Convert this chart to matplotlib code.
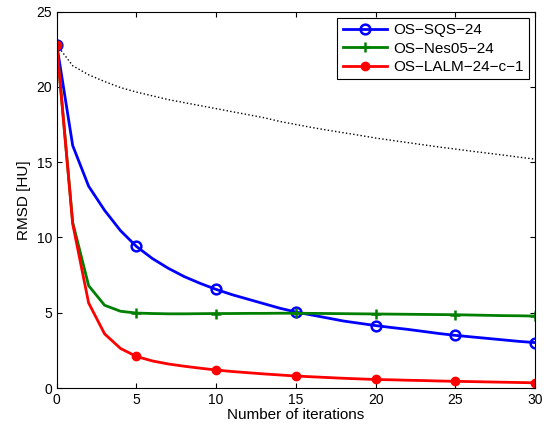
import matplotlib.pyplot as plt

plt.rcParams['font.family'] = ['Liberation Sans', 'DejaVu Sans']

iters = list(range(31))
sqs = [22.8, 16.1, 13.4, 11.8, 10.45, 9.4, 8.6, 7.95, 7.4, 6.95, 6.55,
       6.2, 5.9, 5.6, 5.3, 5.05, 4.85, 4.65, 4.45, 4.3, 4.15,
       4.02, 3.9, 3.76, 3.62, 3.5, 3.4, 3.3, 3.2, 3.1, 3.02]
nes = [22.8, 11.0, 6.8, 5.5, 5.1, 4.98, 4.95, 4.93, 4.93, 4.94, 4.95,
       4.95, 4.96, 4.96, 4.97, 4.97, 4.96, 4.95, 4.94, 4.93, 4.92,
       4.91, 4.9, 4.89, 4.88, 4.87, 4.85, 4.83, 4.81, 4.8, 4.78]
lalm = [22.8, 10.9, 5.65, 3.6, 2.63, 2.1, 1.8, 1.6, 1.45, 1.32, 1.2,
        1.1, 1.02, 0.94, 0.87, 0.8, 0.75, 0.7, 0.65, 0.61, 0.57,
        0.55, 0.52, 0.5, 0.47, 0.45, 0.43, 0.41, 0.39, 0.37, 0.35]
ref = [22.8, 21.4, 20.8, 20.35, 19.95, 19.65, 19.4, 19.15, 18.95, 18.75, 18.55,
       18.35, 18.15, 17.95, 17.7, 17.5, 17.3, 17.12, 16.95, 16.78, 16.6,
       16.45, 16.3, 16.15, 16.0, 15.87, 15.73, 15.6, 15.47, 15.33, 15.2]
labels = ['OS\u2212SQS\u221224', 'OS\u2212Nes05\u221224', 'OS\u2212LALM\u221224\u2212c\u22121']

fig = plt.figure(figsize=(5.51, 4.26), dpi=100)
ax = fig.add_axes([0.103, 0.089, 0.868, 0.884])

ax.plot(iters, ref, 'k:', lw=1)
ax.plot(iters, sqs, 'b-', lw=2, marker='o', markevery=5, ms=7,
        mfc='none', mew=1.8, label=labels[0])
ax.plot(iters, nes, '-', color='#007f00', lw=2, marker='+', markevery=5,
        ms=7, mew=1.8, label=labels[1])
ax.plot(iters, lalm, 'r-', lw=2, marker='o', markevery=5, ms=6,
        label=labels[2])

ax.set_xlim(0, 30)
ax.set_ylim(0, 25)
ax.set_xticks([0, 5, 10, 15, 20, 25, 30])
ax.set_yticks([0, 5, 10, 15, 20, 25])
ax.tick_params(direction='in', top=True, right=True, labelsize=10)
ax.set_xlabel('Number of iterations', fontsize=11, labelpad=1)
ax.set_ylabel('RMSD [HU]', fontsize=11)

leg = ax.legend(loc='upper right', fontsize=11, fancybox=False,
                edgecolor='k', framealpha=1, handlelength=2.9,
                borderaxespad=0.4, labelspacing=0.3, borderpad=0.35,
                handletextpad=0.4)
leg.get_frame().set_linewidth(0.8)

plt.savefig('out.png', dpi=100)
